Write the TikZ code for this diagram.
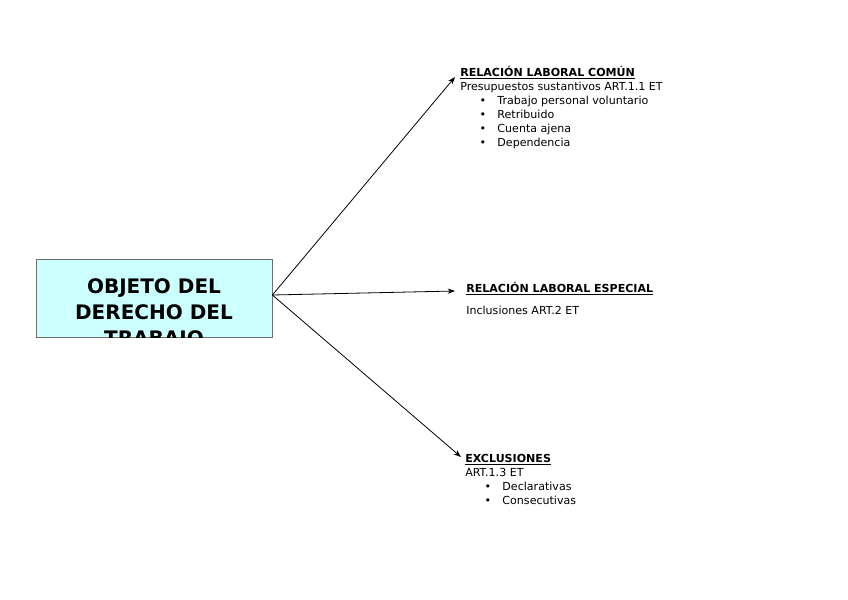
\documentclass[tikz,border=0pt]{standalone}
\usepackage{fontspec}
\setmainfont{DejaVu Sans}
\usetikzlibrary{arrows.meta}
\definecolor{boxcyan}{HTML}{CCFFFF}
\definecolor{boxedge}{HTML}{6E6E6E}
\newcommand{\bulletline}[1]{\hspace*{14.5pt}\textbullet\hspace{8.5pt}#1}
\begin{document}
\begin{tikzpicture}[x=0.75pt,y=-0.75pt,
    objbox/.style={draw=boxedge,fill=boxcyan,line width=0.6pt,minimum width=177pt,minimum height=58.5pt,inner sep=0pt},
    objtext/.style={font=\fontsize{15}{19.5}\selectfont\bfseries,align=center,inner sep=0pt,anchor=north},
    block/.style={font=\fontsize{8.3}{10.5}\selectfont,align=left,inner sep=0pt,anchor=north west},
    link/.style={line width=0.6pt,-{Stealth[length=5.5pt,width=4pt]}}]
  \useasboundingbox (0,0) rectangle (848,599);
  \node[objbox] (obj) at (154,298) {};
  \begin{scope}
    \clip (obj.south west) rectangle (obj.north east);
    \node[objtext] (objname) at (154,278) {OBJETO DEL\\DERECHO DEL\\TRABAJO};
  \end{scope}
  \coordinate (hub) at ([shift={(0,-3)}]obj.east);
  \node[block] (comun) at (460,66) {\textbf{\underline{RELACIÓN LABORAL COMÚN}}\\
    Presupuestos sustantivos ART.1.1 ET\\
    \bulletline{Trabajo personal voluntario}\\
    \bulletline{Retribuido}\\
    \bulletline{Cuenta ajena}\\
    \bulletline{Dependencia}};
  \node[block] (especial) at (466,282) {\textbf{\underline{RELACIÓN LABORAL ESPECIAL}}\\[6pt]
    Inclusiones ART.2 ET};
  \node[block] (excl) at (465,454) {\textbf{\underline{EXCLUSIONES}}\\
    ART.1.3 ET\\
    \bulletline{Declarativas}\\
    \bulletline{Consecutivas}};
  \draw[link] (hub) -- ([shift={(-5,11)}]comun.north west);
  \draw[link] (hub) -- ([shift={(-11,9)}]especial.north west);
  \draw[link] (hub) -- ([shift={(-4,3)}]excl.north west);
\end{tikzpicture}
\end{document}
